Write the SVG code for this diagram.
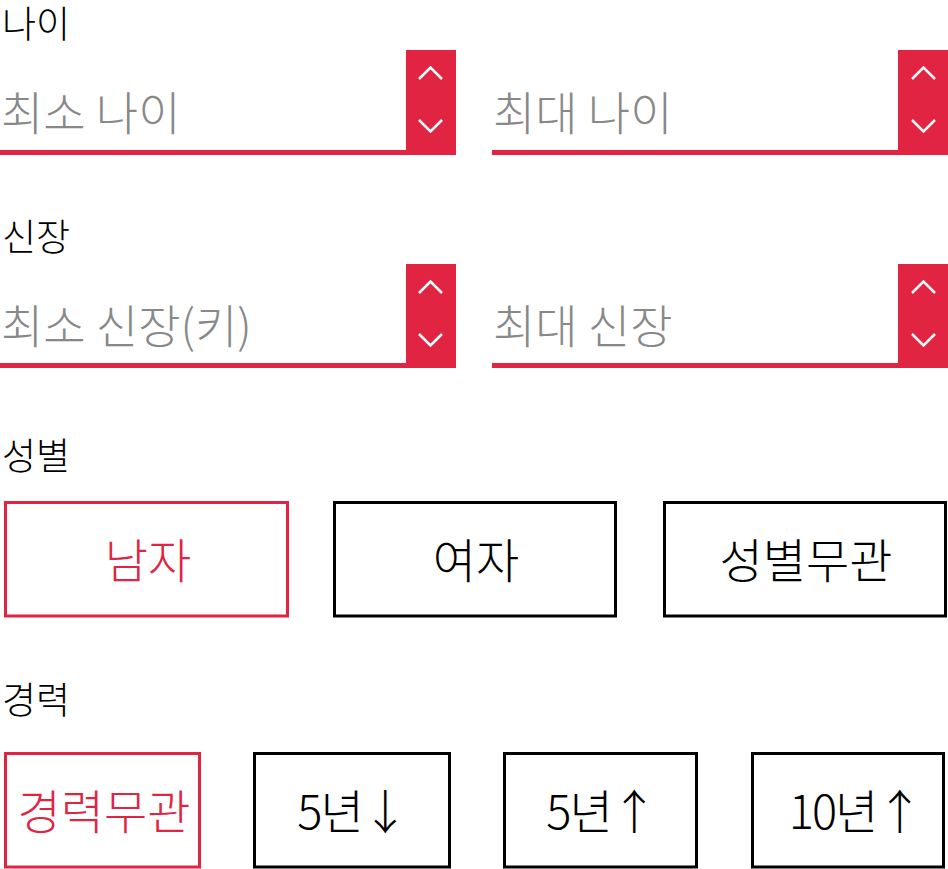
<svg xmlns="http://www.w3.org/2000/svg" width="948" height="869" viewBox="0 0 948 869">
<style>
text{font-family:"Noto Sans CJK KR","Noto Sans",sans-serif;font-weight:300}
.lbl{font-size:37px;fill:#000}
.ph{font-size:46px;fill:#888}
.bt{font-size:47px;fill:#000;text-anchor:middle}
.bt.on{fill:#E12442}
.bt.tight{letter-spacing:-2px}
.red{fill:#E12442}
.chev{fill:none;stroke:#fff;stroke-width:2.5}
.box{fill:#fff;stroke:#000;stroke-width:3}
.box.on{stroke:#E12442}
</style>
<rect width="948" height="869" fill="#fff"/>
<g id="label-age"><text class="lbl" x="2" y="38">나이</text></g>
<g id="field-min-age">
<rect class="red" x="0" y="150" width="406" height="5"/>
<rect class="red" x="406" y="50" width="50" height="105"/>
<polyline class="chev" points="419,79 430.5,67.5 442,79"/>
<polyline class="chev" points="419,120 430.5,131.5 442,120"/>
<text class="ph" x="1" y="130">최소 나이</text>
</g>
<g id="field-max-age">
<rect class="red" x="492" y="150" width="406" height="5"/>
<rect class="red" x="898" y="50" width="50" height="105"/>
<polyline class="chev" points="912,79 923.5,67.5 935,79"/>
<polyline class="chev" points="912,120 923.5,131.5 935,120"/>
<text class="ph" x="493" y="130">최대 나이</text>
</g>
<g id="label-height"><text class="lbl" x="2" y="251">신장</text></g>
<g id="field-min-height">
<rect class="red" x="0" y="363" width="406" height="5"/>
<rect class="red" x="406" y="264" width="50" height="104"/>
<polyline class="chev" points="419,293 430.5,281.5 442,293"/>
<polyline class="chev" points="419,334 430.5,345.5 442,334"/>
<text class="ph" x="1" y="343">최소 신장(키)</text>
</g>
<g id="field-max-height">
<rect class="red" x="492" y="363" width="406" height="5"/>
<rect class="red" x="898" y="264" width="50" height="104"/>
<polyline class="chev" points="912,293 923.5,281.5 935,293"/>
<polyline class="chev" points="912,334 923.5,345.5 935,334"/>
<text class="ph" x="493" y="343">최대 신장</text>
</g>
<g id="label-gender"><text class="lbl" x="2" y="470">성별</text></g>
<g id="btn-male"><rect class="box on" x="5.5" y="502.5" width="282" height="113.5"/><text class="bt on" x="148" y="578">남자</text></g>
<g id="btn-female"><rect class="box" x="334.5" y="502.5" width="281" height="113.5"/><text class="bt" x="476" y="578">여자</text></g>
<g id="btn-any-gender"><rect class="box" x="664.5" y="502.5" width="281" height="113.5"/><text class="bt" x="806" y="578">성별무관</text></g>
<g id="label-career"><text class="lbl" x="2" y="714">경력</text></g>
<g id="btn-any-career"><rect class="box on" x="5.5" y="753.5" width="194" height="113.5"/><text class="bt on" x="104" y="829">경력무관</text></g>
<g id="btn-under5"><rect class="box" x="254.5" y="753.5" width="195" height="113.5"/><text class="bt tight" x="352" y="829">5년↓</text></g>
<g id="btn-over5"><rect class="box" x="504.5" y="753.5" width="192" height="113.5"/><text class="bt tight" x="601" y="829">5년↑</text></g>
<g id="btn-over10"><rect class="box" x="752.5" y="753.5" width="191" height="113.5"/><text class="bt tight" x="855" y="829">10년↑</text></g>
<g id="connectors"/>
</svg>
